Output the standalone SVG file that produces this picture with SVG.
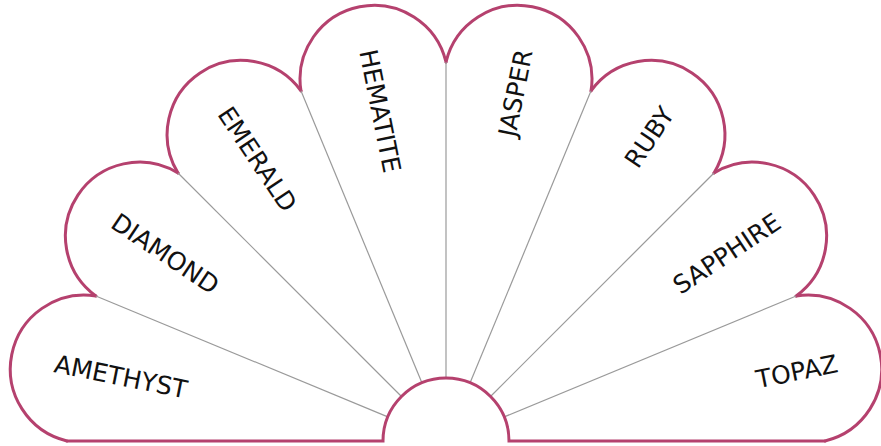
<svg xmlns="http://www.w3.org/2000/svg" width="881" height="446" viewBox="0 0 881 446">
<style>
.lobe{fill:#fff;stroke:#b5416e;stroke-width:3;stroke-linecap:round;stroke-linejoin:round}
.edge{fill:none;stroke:#b5416e;stroke-width:3;stroke-linecap:round}
.div{stroke:#9a9a9a;stroke-width:1.2}
.lbl{font-family:"DejaVu Sans",sans-serif;font-size:25px;fill:#111}
.s{text-anchor:start}
.e{text-anchor:end}
</style>
<rect width="881" height="446" fill="#fff"/>
<g id="topaz">
<path class="lobe" d="M825,441 A74,74 0 0 0 796.15,295.96"/>
<text class="lbl e" transform="translate(837.3,363.2) rotate(-11.25)" dy="0.36em">TOPAZ</text>
</g>
<g id="sapphire">
<path class="lobe" d="M796.15,295.96 A74,74 0 0 0 714,173"/>
<text class="lbl e" transform="translate(777.8,219.3) rotate(-33.75)" dy="0.36em">SAPPHIRE</text>
</g>
<g id="ruby">
<path class="lobe" d="M714,173 A74,74 0 0 0 591.04,90.85"/>
<text class="lbl e" transform="translate(667.7,109.2) rotate(-56.25)" dy="0.36em">RUBY</text>
</g>
<g id="jasper">
<path class="lobe" d="M591.04,90.85 A74,74 0 0 0 446,62"/>
<text class="lbl e" transform="translate(523.8,49.7) rotate(-78.75)" dy="0.36em">JASPER</text>
</g>
<g id="hematite">
<path class="lobe" d="M446,62 A74,74 0 0 0 300.96,90.85"/>
<text class="lbl s" transform="translate(368.2,49.7) rotate(78.75)" dy="0.36em">HEMATITE</text>
</g>
<g id="emerald">
<path class="lobe" d="M300.96,90.85 A74,74 0 0 0 178,173"/>
<text class="lbl s" transform="translate(224.3,109.2) rotate(56.25)" dy="0.36em">EMERALD</text>
</g>
<g id="diamond">
<path class="lobe" d="M178,173 A74,74 0 0 0 95.85,295.96"/>
<text class="lbl s" transform="translate(114.2,219.3) rotate(33.75)" dy="0.36em">DIAMOND</text>
</g>
<g id="amethyst">
<path class="lobe" d="M95.85,295.96 A74,74 0 0 0 67,441"/>
<text class="lbl s" transform="translate(54.7,363.2) rotate(11.25)" dy="0.36em">AMETHYST</text>
</g>
<g id="connectors">
<line class="div" x1="504.2" y1="416.9" x2="796.15" y2="295.96"/>
<line class="div" x1="490.5" y1="396.5" x2="714" y2="173"/>
<line class="div" x1="470.1" y1="382.8" x2="591.04" y2="90.85"/>
<line class="div" x1="446" y1="378" x2="446" y2="62"/>
<line class="div" x1="421.9" y1="382.8" x2="300.96" y2="90.85"/>
<line class="div" x1="401.5" y1="396.5" x2="178" y2="173"/>
<line class="div" x1="387.8" y1="416.9" x2="95.85" y2="295.96"/>
</g>
<g id="hub">
<path class="edge" d="M67,441 L383,441 A63,63 0 0 1 509,441 L825,441"/>
</g>
</svg>
